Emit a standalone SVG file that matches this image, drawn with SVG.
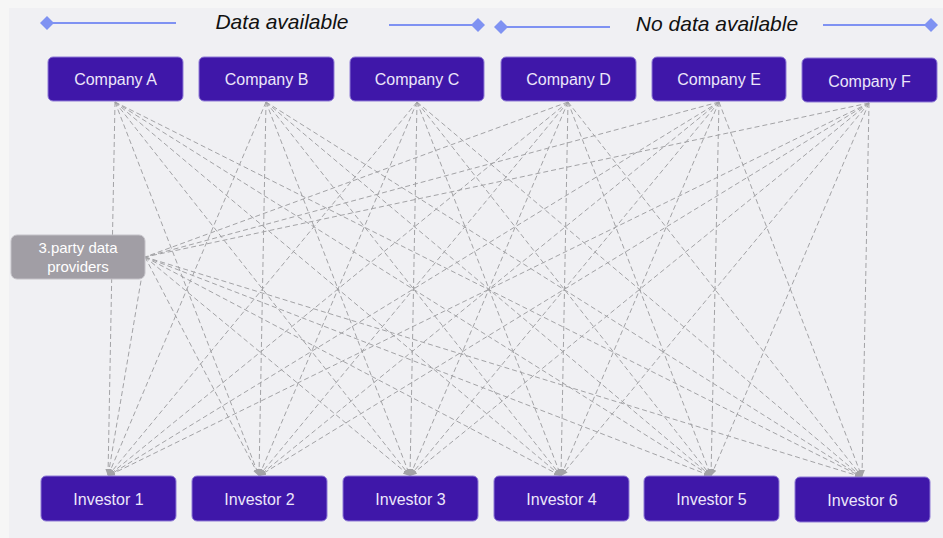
<svg xmlns="http://www.w3.org/2000/svg" width="943" height="538" viewBox="0 0 943 538">
<defs>
<style>
.node rect{fill:#3f17a9;stroke:#8f7bd6;stroke-width:1}
.node text{fill:#ece6fa;font-family:"Liberation Sans",Arial,sans-serif;font-size:16px;text-anchor:middle}
.tp rect{fill:#a19ea5;stroke:#c4c2c8;stroke-width:1}
.tp text{fill:#ffffff;font-family:"Liberation Sans",Arial,sans-serif;font-size:15px;text-anchor:middle}
.hdr{font-family:"Liberation Sans",Arial,sans-serif;font-size:21px;font-style:italic;fill:#111;text-anchor:middle}
.hl{stroke:#7f92f2;stroke-width:2;fill:none}
.dm{fill:#7f92f2}
.c line{stroke:#a3a3a6;stroke-width:1;stroke-dasharray:5 3;fill:none}
.c .a{marker-end:url(#ah)}
</style>
<marker id="ah" viewBox="0 0 10 10" refX="10" refY="5" markerWidth="7" markerHeight="7" orient="auto" markerUnits="userSpaceOnUse">
<path d="M0,1 L10,5 L0,9 Z" fill="#a3a3a6"/>
</marker>
</defs>
<rect x="0" y="0" width="943" height="538" fill="#f6f6f6"/>
<rect x="9" y="8" width="934" height="530" fill="#f0f0f3"/>
<g id="headers">
<line class="hl" x1="47" y1="23" x2="176" y2="23"/>
<path class="dm" d="M40,23 L47,16 L54,23 L47,30 Z"/>
<text class="hdr" x="282" y="29">Data available</text>
<line class="hl" x1="389" y1="25" x2="478" y2="25"/>
<path class="dm" d="M471,25 L478,18 L485,25 L478,32 Z"/>
<line class="hl" x1="501" y1="27" x2="610" y2="27"/>
<path class="dm" d="M494,27 L501,20 L508,27 L501,34 Z"/>
<text class="hdr" x="717" y="31">No data available</text>
<line class="hl" x1="823" y1="25" x2="931" y2="25"/>
<path class="dm" d="M924,25 L931,18 L938,25 L931,32 Z"/>
</g>
<g id="connectors" class="c">
<line class="a" x1="115" y1="102" x2="108" y2="476"/>
<line class="a" x1="115" y1="102" x2="259" y2="476"/>
<line class="a" x1="115" y1="102" x2="410" y2="476"/>
<line class="a" x1="115" y1="102" x2="561" y2="476"/>
<line class="a" x1="115" y1="102" x2="711" y2="476"/>
<line class="a" x1="115" y1="102" x2="862" y2="477"/>
<line class="a" x1="266" y1="102" x2="108" y2="476"/>
<line class="a" x1="266" y1="102" x2="259" y2="476"/>
<line class="a" x1="266" y1="102" x2="410" y2="476"/>
<line class="a" x1="266" y1="102" x2="561" y2="476"/>
<line class="a" x1="266" y1="102" x2="711" y2="476"/>
<line class="a" x1="266" y1="102" x2="862" y2="477"/>
<line class="a" x1="417" y1="102" x2="108" y2="476"/>
<line class="a" x1="417" y1="102" x2="259" y2="476"/>
<line class="a" x1="417" y1="102" x2="410" y2="476"/>
<line class="a" x1="417" y1="102" x2="561" y2="476"/>
<line class="a" x1="417" y1="102" x2="711" y2="476"/>
<line class="a" x1="417" y1="102" x2="862" y2="477"/>
<line class="a" x1="568" y1="102" x2="108" y2="476"/>
<line class="a" x1="568" y1="102" x2="259" y2="476"/>
<line class="a" x1="568" y1="102" x2="410" y2="476"/>
<line class="a" x1="568" y1="102" x2="561" y2="476"/>
<line class="a" x1="568" y1="102" x2="711" y2="476"/>
<line class="a" x1="568" y1="102" x2="862" y2="477"/>
<line class="a" x1="719" y1="102" x2="108" y2="476"/>
<line class="a" x1="719" y1="102" x2="259" y2="476"/>
<line class="a" x1="719" y1="102" x2="410" y2="476"/>
<line class="a" x1="719" y1="102" x2="561" y2="476"/>
<line class="a" x1="719" y1="102" x2="711" y2="476"/>
<line class="a" x1="719" y1="102" x2="862" y2="477"/>
<line class="a" x1="869" y1="103" x2="108" y2="476"/>
<line class="a" x1="869" y1="103" x2="259" y2="476"/>
<line class="a" x1="869" y1="103" x2="410" y2="476"/>
<line class="a" x1="869" y1="103" x2="561" y2="476"/>
<line class="a" x1="869" y1="103" x2="711" y2="476"/>
<line class="a" x1="869" y1="103" x2="862" y2="477"/>
<line x1="568" y1="102" x2="145" y2="257"/>
<line x1="719" y1="102" x2="145" y2="257"/>
<line x1="869" y1="103" x2="145" y2="257"/>
<line class="a" x1="145" y1="257" x2="108" y2="476"/>
<line class="a" x1="145" y1="257" x2="259" y2="476"/>
<line class="a" x1="145" y1="257" x2="410" y2="476"/>
<line class="a" x1="145" y1="257" x2="561" y2="476"/>
<line class="a" x1="145" y1="257" x2="711" y2="476"/>
<line class="a" x1="145" y1="257" x2="862" y2="477"/>
</g>
<g id="company-a" class="node"><rect x="48" y="57" width="135" height="44" rx="5"/><text x="115.5" y="85">Company A</text></g>
<g id="company-b" class="node"><rect x="199" y="57" width="135" height="44" rx="5"/><text x="266.5" y="85">Company B</text></g>
<g id="company-c" class="node"><rect x="350" y="57" width="134" height="44" rx="5"/><text x="417" y="85">Company C</text></g>
<g id="company-d" class="node"><rect x="501" y="57" width="135" height="44" rx="5"/><text x="568.5" y="85">Company D</text></g>
<g id="company-e" class="node"><rect x="652" y="57" width="134" height="44" rx="5"/><text x="719" y="85">Company E</text></g>
<g id="company-f" class="node"><rect x="802" y="58" width="135" height="44" rx="5"/><text x="869.5" y="87">Company F</text></g>
<g id="third-party" class="tp"><rect x="11" y="235" width="134" height="44" rx="6"/><text x="78" y="253">3.party data</text><text x="78" y="272">providers</text></g>
<g id="investor-1" class="node"><rect x="41" y="476" width="135" height="45" rx="5"/><text x="108.5" y="505">Investor 1</text></g>
<g id="investor-2" class="node"><rect x="192" y="476" width="135" height="45" rx="5"/><text x="259.5" y="505">Investor 2</text></g>
<g id="investor-3" class="node"><rect x="343" y="476" width="135" height="45" rx="5"/><text x="410.5" y="505">Investor 3</text></g>
<g id="investor-4" class="node"><rect x="494" y="476" width="135" height="45" rx="5"/><text x="561.5" y="505">Investor 4</text></g>
<g id="investor-5" class="node"><rect x="644" y="476" width="135" height="45" rx="5"/><text x="711.5" y="505">Investor 5</text></g>
<g id="investor-6" class="node"><rect x="795" y="477" width="135" height="45" rx="5"/><text x="862.5" y="506">Investor 6</text></g>
</svg>
